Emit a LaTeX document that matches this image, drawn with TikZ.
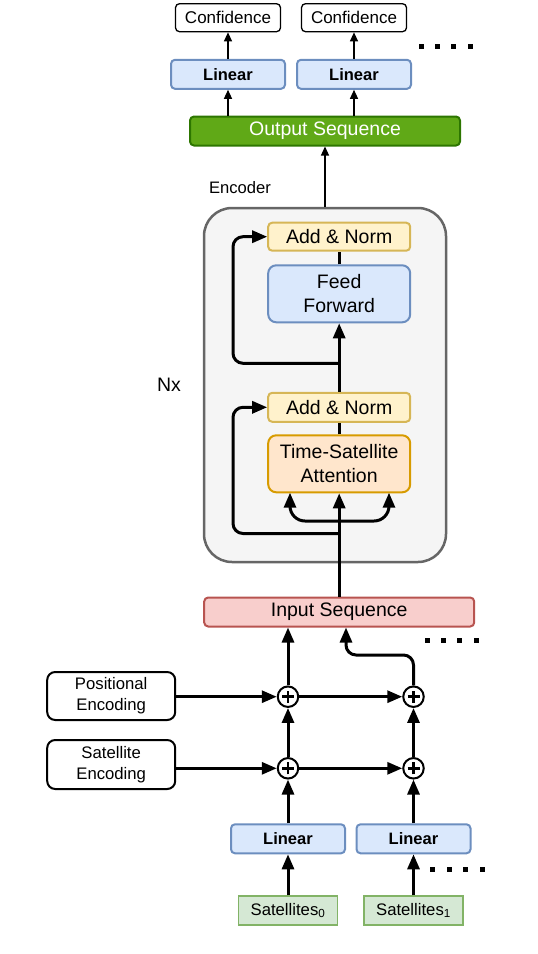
\documentclass[tikz,border=0pt]{standalone}
\usepackage{fontspec}
\setmainfont{Liberation Sans}
\usetikzlibrary{arrows.meta}
\definecolor{linfill}{HTML}{DAE8FC}\definecolor{linstroke}{HTML}{6C8EBF}
\definecolor{outfill}{HTML}{60A917}\definecolor{outstroke}{HTML}{2D7600}
\definecolor{encfill}{HTML}{F5F5F5}\definecolor{encstroke}{HTML}{666666}
\definecolor{anfill}{HTML}{FFF2CC}\definecolor{anstroke}{HTML}{D6B656}
\definecolor{attfill}{HTML}{FFE6CC}\definecolor{attstroke}{HTML}{D79B00}
\definecolor{inpfill}{HTML}{F8CECC}\definecolor{inpstroke}{HTML}{B85450}
\definecolor{satfill}{HTML}{D5E8D4}\definecolor{satstroke}{HTML}{82B366}
\newcommand{\bigf}{\fontsize{19.5}{24}\selectfont}
\newcommand{\smallf}{\fontsize{16.7}{21}\selectfont}
\begin{document}
\begin{tikzpicture}[x=1pt,y=-1pt,
  box/.style={draw, line width=2pt, inner sep=0pt, align=center, rounded corners=4pt},
  confbox/.style={box, line width=1.3pt, fill=white, minimum width=105pt, minimum height=28pt, font=\fontsize{17}{20}\selectfont},
  linbox/.style={box, fill=linfill, draw=linstroke, minimum width=114pt, minimum height=29pt, font=\fontsize{16.5}{20}\selectfont\bfseries},
  anbox/.style={box, fill=anfill, draw=anstroke, minimum width=142pt, minimum height=28pt, font=\bigf},
  bigbox/.style={box, rounded corners=8pt, minimum width=142pt, minimum height=57pt, font=\bigf},
  seqbox/.style={box, minimum width=270pt, minimum height=29pt, font=\bigf},
  encbox/.style={box, rounded corners=8pt, fill=white, minimum width=128pt, minimum height=48pt, font=\smallf},
  satbox/.style={box, rounded corners=0pt, fill=satfill, draw=satstroke, line width=1.5pt, minimum width=99pt, minimum height=29pt, font=\smallf},
  plus/.style={circle, draw, line width=2pt, fill=white, minimum size=20.5pt, inner sep=0pt,
    path picture={\draw[line width=2.6pt] ([xshift=-6pt]path picture bounding box.center) -- ([xshift=6pt]path picture bounding box.center) ([yshift=-6pt]path picture bounding box.center) -- ([yshift=6pt]path picture bounding box.center);}},
  thk/.style={line width=3pt},
  thkarrow/.style={thk, -{Triangle[length=15pt,width=12pt]}},
  thinarrow/.style={line width=1.3pt, -{Triangle[length=9pt,width=8pt]}},
  dot/.style={fill=black}
]
\useasboundingbox (0,0) rectangle (538,954);

% encoder container
\node[draw=encstroke, fill=encfill, line width=2.5pt, rounded corners=28pt, minimum width=242pt, minimum height=354pt, inner sep=0pt] (enc) at (325,385) {};
\node[font=\fontsize{16.6}{20}\selectfont] (enclabel) at (240,188) {Encoder};
\node[font=\bigf] (nx) at (169,385) {Nx};

% top
\node[confbox] (conf1) at (228,17.7) {Confidence};
\node[confbox] (conf2) at (354,17.7) {Confidence};
\node[linbox] (lin1) at (228,74.3) {Linear};
\node[linbox] (lin2) at (354,74.3) {Linear};
\node[seqbox, fill=outfill, draw=outstroke, text=white] (out) at (325,131) {Output Sequence};

% encoder inner
\node[anbox] (an2) at (339.2,236.7) {Add \& Norm};
\node[bigbox, fill=linfill, draw=linstroke] (ff) at (339.2,293.8) {Feed\\Forward};
\node[anbox, minimum height=29pt] (an1) at (339.2,407.3) {Add \& Norm};
\node[bigbox, fill=attfill, draw=attstroke] (att) at (339.2,463.8) {Time-Satellite\\Attention};

% input
\node[seqbox, fill=inpfill, draw=inpstroke] (inp) at (339.2,612) {Input Sequence};
\node[plus] (p11) at (288,696.7) {};
\node[plus] (p12) at (413.5,696.7) {};
\node[plus] (p21) at (288,768.3) {};
\node[plus] (p22) at (413.5,768.3) {};
\node[encbox] (pos) at (111.2,696) {Positional\\Encoding};
\node[encbox, minimum height=49pt] (sat) at (111.2,764.5) {Satellite\\Encoding};
\node[linbox] (lin3) at (288,838.8) {Linear};
\node[linbox] (lin4) at (413.5,838.8) {Linear};
\node[satbox] (s0) at (288,910.5) {Satellites\textsubscript{0}};
\node[satbox] (s1) at (413.5,910.5) {Satellites\textsubscript{1}};

% top connectors
\draw[thinarrow] (lin1) -- (conf1);
\draw[thinarrow] (lin2) -- (conf2);
\draw[thinarrow] (out.north -| lin1) -- (lin1);
\draw[thinarrow] (out.north -| lin2) -- (lin2);
\draw[thinarrow] (enc.north -| out) -- (out);

% encoder connectors
\coordinate (split) at (339.2,521);
\coordinate (attL) at (290,492.7);
\coordinate (attR) at (389,492.7);
\coordinate (res1) at (339.2,533.5);
\coordinate (res1L) at (233,407.3);
\coordinate (res2) at (339.2,363.3);
\coordinate (res2L) at (233,236.7);
\draw[thkarrow] (inp) -- (att);
\draw[thkarrow, rounded corners=15pt] (split) -| (attL);
\draw[thkarrow, rounded corners=15pt] (split) -| (attR);
\draw[thk] (att) -- (an1);
\draw[thkarrow] (an1) -- (ff);
\draw[thk] (ff) -- (an2);
\draw[thkarrow, rounded corners=10pt] (res1) -| (res1L) -- (an1.west);
\draw[thkarrow, rounded corners=10pt] (res2) -| (res2L) -- (an2.west);

% bottom connectors
\draw[thkarrow] (pos.east |- p11) -- (p11);
\draw[thkarrow] (p11) -- (p12);
\draw[thkarrow] (sat.east |- p21) -- (p21);
\draw[thkarrow] (p21) -- (p22);
\draw[thkarrow] (s0) -- (lin3);
\draw[thkarrow] (s1) -- (lin4);
\draw[thkarrow] (lin3) -- (p21);
\draw[thkarrow] (lin4) -- (p22);
\draw[thkarrow] (p21) -- (p11);
\draw[thkarrow] (p22) -- (p12);
\draw[thkarrow] (p11) -- (inp.south -| p11);
\coordinate (bend) at (346,655);
\draw[thkarrow, rounded corners=10pt] (p12.north) |- (bend) -- (bend |- inp.south);

% dots
\foreach \x in {421.7,437.5,453.5,470} \fill[dot] (\x-2.5,43.5) rectangle (\x+2.5,48.5);
\foreach \x in {427.3,443.3,459.3,476} \fill[dot] (\x-2.5,638.2) rectangle (\x+2.5,643.2);
\foreach \x in {432.3,449,465.8,482.5} \fill[dot] (\x-2.5,866.5) rectangle (\x+2.5,871.5);
\end{tikzpicture}
\end{document}
